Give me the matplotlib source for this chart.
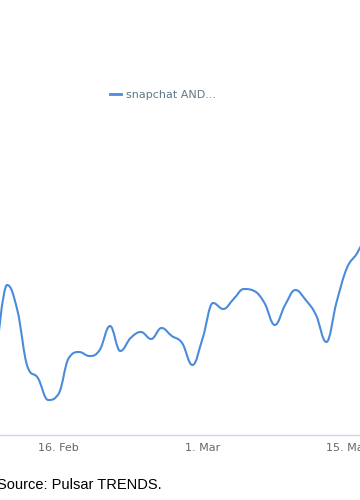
import datetime as dt
import matplotlib
matplotlib.use("Agg")
import matplotlib.pyplot as plt
import matplotlib.dates as mdates
from matplotlib.path import Path
from matplotlib.patches import PathPatch
from matplotlib.lines import Line2D

# ---- data ----
start_date = dt.date(2024, 2, 10)
values = [83, 150, 125, 68, 57, 35, 41, 77, 83, 79, 85, 109, 84, 97, 103, 96,
          107, 99, 92, 70, 97, 132, 126, 136, 146, 144, 132, 110, 130, 145,
          135, 120, 93, 133, 167, 182, 203]
dates = [start_date + dt.timedelta(days=i) for i in range(len(values))]
series_name = "snapchat AND..."
tick_dates = [dt.date(2024, 2, 16), dt.date(2024, 3, 1), dt.date(2024, 3, 15)]
tick_labels = ["16. Feb", "1. Mar", "15. Mar"]
source_text = "Source: Pulsar TRENDS."

LINE_COLOR = "#4a8bdc"


def highcharts_spline(xs, ys, smoothing=1.5):
    n = len(xs)
    left = [(xs[i], ys[i]) for i in range(n)]
    right = [(xs[i], ys[i]) for i in range(n)]
    denom = smoothing + 1
    for i in range(1, n - 1):
        lx, ly = xs[i - 1], ys[i - 1]
        px, py = xs[i], ys[i]
        nx, ny = xs[i + 1], ys[i + 1]
        lcx = (smoothing * px + lx) / denom
        lcy = (smoothing * py + ly) / denom
        rcx = (smoothing * px + nx) / denom
        rcy = (smoothing * py + ny) / denom
        if rcx != lcx:
            corr = ((rcy - lcy) * (rcx - px)) / (rcx - lcx) + py - rcy
            lcy += corr
            rcy += corr
        if lcy > ly and lcy > py:
            lcy = max(ly, py)
            rcy = 2 * py - lcy
        elif lcy < ly and lcy < py:
            lcy = min(ly, py)
            rcy = 2 * py - lcy
        if rcy > ny and rcy > py:
            rcy = max(ny, py)
            lcy = 2 * py - rcy
        elif rcy < ny and rcy < py:
            rcy = min(ny, py)
            lcy = 2 * py - rcy
        left[i] = (lcx, lcy)
        right[i] = (rcx, rcy)
    verts = [(xs[0], ys[0])]
    codes = [Path.MOVETO]
    for i in range(1, n):
        verts += [right[i - 1], left[i], (xs[i], ys[i])]
        codes += [Path.CURVE4] * 3
    return Path(verts, codes)


fig = plt.figure(figsize=(3.6, 5.0), dpi=100)
ax = fig.add_axes([0, 65 / 500, 1, 435 / 500])

xnum = mdates.date2num(dates)
path = highcharts_spline(list(xnum), values)
ax.add_patch(PathPatch(path, facecolor="none", edgecolor=LINE_COLOR,
                       lw=1.5, capstyle="round", joinstyle="round"))

t0 = mdates.date2num(dt.date(2024, 2, 16))
px_per_day = 10.3
ax.set_xlim(t0 - 58.5 / px_per_day, t0 + (360 - 58.5) / px_per_day)
ax.set_ylim(0, 435)

for s in ["left", "right", "top"]:
    ax.spines[s].set_visible(False)
ax.spines["bottom"].set_color("#ccd6eb")
ax.spines["bottom"].set_linewidth(1)
ax.set_yticks([])
ax.set_xticks(mdates.date2num(tick_dates))
ax.set_xticklabels(tick_labels)
ax.tick_params(axis="x", length=0, pad=5.5, labelsize=8, labelcolor="#666666")

leg_handle = Line2D([], [], color=LINE_COLOR, lw=2)
leg = ax.legend([leg_handle], [series_name], loc="center left",
                bbox_to_anchor=(110 / 360, 1 - 95 / 500),
                bbox_transform=fig.transFigure, frameon=False,
                borderpad=0, borderaxespad=0, handlelength=0.95,
                handletextpad=0.5, prop={"size": 8})
for t in leg.get_texts():
    t.set_color("#5f7889")

fig.text(162 / 360, 1 - 489 / 500, source_text, ha="right", va="baseline",
         fontsize=10.5, family=["Liberation Sans", "DejaVu Sans"], color="#000000")

fig.savefig("out.png", dpi=100, facecolor="white")
